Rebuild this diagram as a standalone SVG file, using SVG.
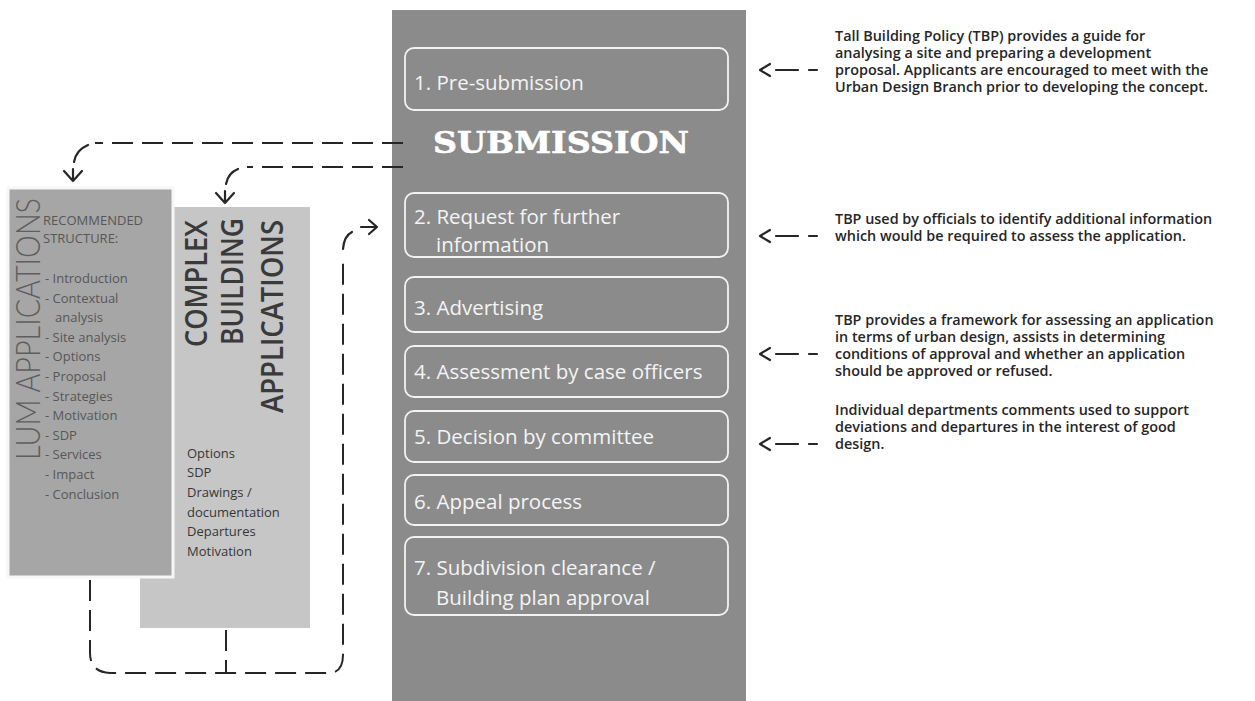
<svg xmlns="http://www.w3.org/2000/svg" width="1255" height="701" viewBox="0 0 1255 701">
  <style>
    .column { fill: #8b8b8b; }
    .step { fill: #8b8b8b; stroke: #f2f2f2; stroke-width: 1.8; }
    .step-text { font-family: "Open Sans", "Liberation Sans", sans-serif; font-size: 20.5px; fill: #f4f4f4; }
    .title { font-family: "DejaVu Serif", "Liberation Serif", serif; font-weight: bold; font-size: 30px; fill: #ffffff; stroke: #ffffff; stroke-width: 0.6; }
    .lum-panel { fill: #a6a6a6; stroke: #f6f6f6; stroke-width: 3; }
    .cba-panel { fill: #c6c6c6; }
    .lum-head { font-family: "Lato", "Open Sans", "Liberation Sans", sans-serif; font-weight: 300; font-size: 33px; fill: #5e5e5e; }
    .cba-head { font-family: "Open Sans", "Liberation Sans", sans-serif; font-weight: 600; font-size: 31px; fill: #3a3a3a; }
    .lum-list { font-family: "Open Sans", "Liberation Sans", sans-serif; font-size: 13px; fill: #575757; }
    .cba-list { font-family: "Open Sans", "Liberation Sans", sans-serif; font-size: 13px; fill: #363636; }
    .note { font-family: "Open Sans", "Liberation Sans", sans-serif; font-weight: 600; font-size: 14.4px; fill: #262626; }
    .dash { fill: none; stroke: #262626; stroke-width: 2; stroke-dasharray: 21 9; }
    .solid { fill: none; stroke: #262626; stroke-width: 2.2; stroke-linecap: round; stroke-linejoin: round; }
  </style>

  <!-- Complex building applications panel (behind) -->
  <g id="complex-building-applications">
    <rect class="cba-panel" x="140" y="207" width="170" height="421"/>
    <text class="cba-head" transform="translate(207,347) rotate(-90)" textLength="127" lengthAdjust="spacingAndGlyphs">COMPLEX</text>
    <text class="cba-head" transform="translate(243,345) rotate(-90)" textLength="127" lengthAdjust="spacingAndGlyphs">BUILDING</text>
    <text class="cba-head" transform="translate(283,413) rotate(-90)" textLength="193" lengthAdjust="spacingAndGlyphs">APPLICATIONS</text>
    <text class="cba-list" x="187" y="458">Options</text>
    <text class="cba-list" x="187" y="477">SDP</text>
    <text class="cba-list" x="187" y="497">Drawings /</text>
    <text class="cba-list" x="187" y="517">documentation</text>
    <text class="cba-list" x="187" y="536">Departures</text>
    <text class="cba-list" x="187" y="556">Motivation</text>
  </g>

  <!-- LUM applications panel (front) -->
  <g id="lum-applications">
    <rect class="lum-panel" x="8" y="188" width="165" height="389"/>
    <text class="lum-head" transform="translate(40,460) rotate(-90)" textLength="262" lengthAdjust="spacingAndGlyphs">LUM APPLICATIONS</text>
    <text class="lum-list" x="43" y="225">RECOMMENDED</text>
    <text class="lum-list" x="43" y="243">STRUCTURE:</text>
    <text class="lum-list" x="45" y="283">- Introduction</text>
    <text class="lum-list" x="45" y="302.6">- Contextual</text>
    <text class="lum-list" x="55" y="322.2">analysis</text>
    <text class="lum-list" x="45" y="341.8">- Site analysis</text>
    <text class="lum-list" x="45" y="361.4">- Options</text>
    <text class="lum-list" x="45" y="381">- Proposal</text>
    <text class="lum-list" x="45" y="400.6">- Strategies</text>
    <text class="lum-list" x="45" y="420.2">- Motivation</text>
    <text class="lum-list" x="45" y="439.8">- SDP</text>
    <text class="lum-list" x="45" y="459.4">- Services</text>
    <text class="lum-list" x="45" y="479">- Impact</text>
    <text class="lum-list" x="45" y="498.6">- Conclusion</text>
  </g>

  <!-- Submission process column -->
  <g id="submission-column">
    <rect class="column" x="392" y="10" width="354" height="691"/>
  </g>
  <g id="step-1">
    <rect class="step" x="405" y="48" width="323" height="62" rx="9"/>
    <text class="step-text" x="414" y="90">1. Pre-submission</text>
  </g>
  <g id="submission-title">
    <text class="title" x="433" y="153" textLength="256" lengthAdjust="spacingAndGlyphs">SUBMISSION</text>
  </g>
  <g id="step-2">
    <rect class="step" x="405" y="193" width="323" height="64" rx="9"/>
    <text class="step-text" x="414" y="224">2. Request for further</text>
    <text class="step-text" x="436" y="252">information</text>
  </g>
  <g id="step-3">
    <rect class="step" x="405" y="277" width="323" height="55" rx="9"/>
    <text class="step-text" x="414" y="315">3. Advertising</text>
  </g>
  <g id="step-4">
    <rect class="step" x="405" y="346" width="323" height="51" rx="9"/>
    <text class="step-text" x="414" y="379">4. Assessment by case officers</text>
  </g>
  <g id="step-5">
    <rect class="step" x="405" y="411" width="323" height="51" rx="9"/>
    <text class="step-text" x="414" y="444">5. Decision by committee</text>
  </g>
  <g id="step-6">
    <rect class="step" x="405" y="475" width="323" height="50" rx="9"/>
    <text class="step-text" x="414" y="509">6. Appeal process</text>
  </g>
  <g id="step-7">
    <rect class="step" x="405" y="537" width="323" height="78" rx="9"/>
    <text class="step-text" x="414" y="575">7. Subdivision clearance /</text>
    <text class="step-text" x="436" y="605">Building plan approval</text>
  </g>

  <!-- Policy notes -->
  <g id="note-1">
    <text class="note" x="835" y="41">Tall Building Policy (TBP) provides a guide for</text>
    <text class="note" x="835" y="58">analysing a site and preparing a development</text>
    <text class="note" x="835" y="75">proposal. Applicants are encouraged to meet with the</text>
    <text class="note" x="835" y="92">Urban Design Branch prior to developing the concept.</text>
  </g>
  <g id="note-2">
    <text class="note" x="835" y="224">TBP used by officials to identify additional information</text>
    <text class="note" x="835" y="241">which would be required to assess the application.</text>
  </g>
  <g id="note-3">
    <text class="note" x="835" y="325">TBP provides a framework for assessing an application</text>
    <text class="note" x="835" y="342">in terms of urban design, assists in determining</text>
    <text class="note" x="835" y="359">conditions of approval  and whether an application</text>
    <text class="note" x="835" y="376">should be approved or refused.</text>
  </g>
  <g id="note-4">
    <text class="note" x="835" y="415">Individual departments comments used to support</text>
    <text class="note" x="835" y="432">deviations and departures in the interest of good</text>
    <text class="note" x="835" y="449">design.</text>
  </g>

  <!-- Connectors -->
  <g id="connectors">
    <!-- submission to LUM applications -->
    <path class="dash" d="M403,143 H95"/>
    <path class="solid" d="M88,145 Q76,150 74,162"/>
    <path class="solid" d="M64,171 L73,181 L82,171 M73,169 V181"/>
    <!-- submission to complex building applications -->
    <path class="dash" d="M403,167 H247"/>
    <path class="solid" d="M238,169 Q228,173 226,184"/>
    <path class="solid" d="M216,193 L225,203 L234,193 M225,191 V203"/>
    <!-- feedback loop back into the process -->
    <path class="dash" d="M90,580 V653 Q90,672 110,673 H330 Q343,672 343,655 V257"/>
    <path class="dash" d="M226,630 V673"/>
    <path class="solid" d="M343,249 Q344,236 352,232"/>
    <path class="solid" d="M361,227 H376 M369,220 L377,227 L369,234"/>
    <!-- notes to steps -->
    <path class="solid" d="M770,64 L760,70 L770,76"/>
    <path class="solid" d="M776,70 H798 M809,70 H817"/>
    <path class="solid" d="M770,230 L760,236 L770,242"/>
    <path class="solid" d="M776,236 H798 M809,236 H817"/>
    <path class="solid" d="M770,348 L760,354 L770,360"/>
    <path class="solid" d="M776,354 H798 M809,354 H817"/>
    <path class="solid" d="M770,438 L760,444 L770,450"/>
    <path class="solid" d="M776,444 H798 M809,444 H817"/>
  </g>
</svg>
